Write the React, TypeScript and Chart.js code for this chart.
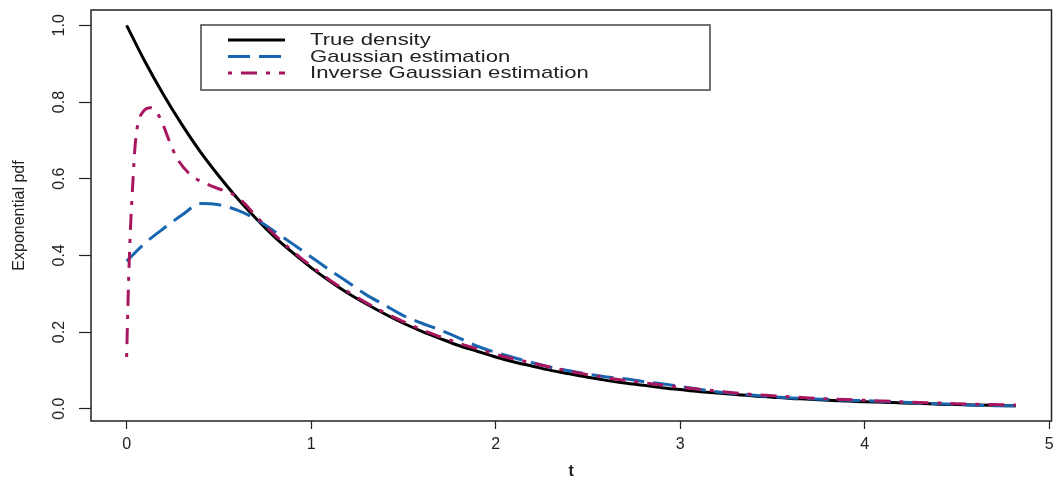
import React, { useEffect, useRef } from "react";
import { Chart, registerables } from "chart.js";

Chart.register(...registerables);

// ---- data ----
const X_TICKS = [0, 1, 2, 3, 4, 5];
const Y_TICK_LABELS = ["0.0", "0.2", "0.4", "0.6", "0.8", "1.0"];
const X_TITLE = "t";
const Y_TITLE = "Exponential pdf";
const SERIES_LABELS = ["True density", "Gaussian estimation", "Inverse Gaussian estimation"];

const tGrid = [
  0, 0.1, 0.2, 0.3, 0.4, 0.5, 0.6, 0.7, 0.8, 0.9,
  1.0, 1.1, 1.2, 1.3, 1.4, 1.5, 1.6, 1.7, 1.8, 1.9,
  2.0, 2.1, 2.2, 2.3, 2.4, 2.5, 2.6, 2.7, 2.8, 2.9,
  3.0, 3.1, 3.2, 3.3, 3.4, 3.5, 3.6, 3.7, 3.8, 3.9,
  4.0, 4.1, 4.2, 4.3, 4.4, 4.5, 4.6, 4.7, 4.8, 4.82,
];

const trueDensity = [
  1.0, 0.905, 0.819, 0.741, 0.67, 0.607, 0.549, 0.497, 0.449, 0.407,
  0.368, 0.333, 0.301, 0.273, 0.247, 0.223, 0.202, 0.183, 0.165, 0.15,
  0.135, 0.122, 0.111, 0.1, 0.091, 0.082, 0.074, 0.067, 0.061, 0.055,
  0.05, 0.045, 0.041, 0.037, 0.033, 0.03, 0.027, 0.025, 0.022, 0.02,
  0.018, 0.017, 0.015, 0.014, 0.012, 0.011, 0.01, 0.009, 0.008, 0.008,
];

const gaussianEst = [
  0.385, 0.432, 0.47, 0.505, 0.535, 0.532, 0.518, 0.495, 0.463, 0.43,
  0.396, 0.362, 0.33, 0.297, 0.27, 0.243, 0.223, 0.205, 0.185, 0.163,
  0.147, 0.133, 0.12, 0.108, 0.099, 0.09, 0.083, 0.078, 0.071, 0.065,
  0.058, 0.051, 0.044, 0.039, 0.035, 0.031, 0.028, 0.026, 0.024, 0.022,
  0.021, 0.019, 0.017, 0.015, 0.013, 0.011, 0.009, 0.008, 0.008, 0.007,
];

const invGaussT = [
  0, 0.01, 0.02, 0.035, 0.045, 0.06, 0.09, 0.13, 0.18, 0.23,
  0.27, 0.34, 0.43, 0.52, 0.6, 0.65, 0.7, 0.8, 0.9, 1.0,
  1.1, 1.2, 1.3, 1.4, 1.5, 1.6, 1.7, 1.8, 1.9, 2.0,
  2.1, 2.2, 2.3, 2.4, 2.5, 2.6, 2.7, 2.8, 2.9, 3.0,
  3.1, 3.2, 3.3, 3.4, 3.5, 3.6, 3.7, 3.8, 3.9, 4.0,
  4.1, 4.2, 4.3, 4.4, 4.5, 4.6, 4.7, 4.8, 4.82,
];

const invGaussEst = [
  0.135, 0.32, 0.46, 0.6, 0.68, 0.74, 0.775, 0.785, 0.76, 0.7,
  0.656, 0.613, 0.587, 0.57, 0.553, 0.53, 0.503, 0.455, 0.411, 0.372,
  0.336, 0.305, 0.276, 0.25, 0.227, 0.206, 0.188, 0.171, 0.156, 0.142,
  0.13, 0.119, 0.108, 0.098, 0.089, 0.081, 0.074, 0.068, 0.062, 0.056,
  0.051, 0.046, 0.041, 0.037, 0.034, 0.031, 0.028, 0.026, 0.024, 0.022,
  0.02, 0.018, 0.016, 0.015, 0.013, 0.012, 0.011, 0.01, 0.01,
];

const FONT = "'Liberation Sans', Arial, Helvetica, sans-serif";

export default function App() {
  const ref = useRef<HTMLCanvasElement>(null);

  useEffect(() => {
    if (!ref.current) return;

    const boxPlugin = {
      id: "rbox",
      afterDatasetsDraw(chart: any) {
        const { ctx, chartArea: a } = chart;
        ctx.save();
        ctx.strokeStyle = "#222";
        ctx.lineWidth = 1.5;
        ctx.strokeRect(a.left, a.top, a.right - a.left, a.bottom - a.top);
        ctx.restore();
      },
    };

    const legendPlugin = {
      id: "rlegend",
      afterDraw(chart: any) {
        const ctx = chart.ctx;
        const x0 = 201, y0 = 25, x1 = 710, y1 = 90;
        ctx.save();
        ctx.fillStyle = "#fff";
        ctx.fillRect(x0, y0, x1 - x0, y1 - y0);
        ctx.strokeStyle = "#444";
        ctx.lineWidth = 1.5;
        ctx.strokeRect(x0, y0, x1 - x0, y1 - y0);
        const baselines = [45, 61.5, 78];
        chart.data.datasets.forEach((ds: any, i: number) => {
          const yb = baselines[i];
          ctx.save();
          ctx.strokeStyle = ds.borderColor;
          ctx.lineWidth = ds.borderWidth;
          ctx.lineCap = "butt";
          ctx.setLineDash(ds.borderDash || []);
          ctx.beginPath();
          ctx.moveTo(228, yb - 5);
          ctx.lineTo(285, yb - 5);
          ctx.stroke();
          ctx.restore();
          ctx.save();
          ctx.translate(310, yb);
          ctx.scale(1.3, 1);
          ctx.fillStyle = "#222";
          ctx.font = `17px ${FONT}`;
          ctx.textBaseline = "alphabetic";
          ctx.textAlign = "left";
          ctx.fillText(ds.label, 0, 0);
          ctx.restore();
        });
        ctx.restore();
      },
    };

    const chart = new Chart(ref.current, {
      type: "line",
      data: {
        datasets: [
          {
            label: SERIES_LABELS[0],
            data: tGrid.map((t, i) => ({ x: t, y: trueDensity[i] })),
            borderColor: "#000000",
            borderWidth: 3,
            borderDash: [],
            order: 3,
          },
          {
            label: SERIES_LABELS[1],
            data: tGrid.map((t, i) => ({ x: t, y: gaussianEst[i] })),
            borderColor: "#1866b0",
            borderWidth: 3,
            borderDash: [22, 9],
            order: 2,
          },
          {
            label: SERIES_LABELS[2],
            data: invGaussT.map((t, i) => ({ x: t, y: invGaussEst[i] })),
            borderColor: "#a8165f",
            borderWidth: 3,
            borderDash: [4, 9, 16, 9],
            order: 1,
          },
        ],
      },
      options: {
        responsive: false,
        animation: false,
        devicePixelRatio: 1,
        layout: { padding: { top: 10, right: 3.5, left: 0, bottom: 0 } },
        plugins: {
          legend: { display: false },
          tooltip: { enabled: false },
        },
        elements: {
          point: { radius: 0 },
          line: { cubicInterpolationMode: "monotone", fill: false, borderCapStyle: "butt" },
        },
        scales: {
          x: {
            type: "linear",
            min: -0.193,
            max: 5.013,
            afterBuildTicks: (s: any) => {
              s.ticks = X_TICKS.map((v) => ({ value: v }));
            },
            afterFit: (s: any) => {
              s.height = 56;
              s.paddingLeft = 0;
              s.paddingRight = 0;
            },
            border: { display: false },
            grid: {
              drawOnChartArea: false,
              drawTicks: true,
              tickLength: 8,
              tickColor: "#222",
              tickWidth: 1.2,
            },
            ticks: {
              autoSkip: false,
              maxRotation: 0,
              padding: 6,
              color: "#222",
              font: { family: FONT, size: 16 },
              callback: (v: any) => String(v),
            },
            title: {
              display: true,
              text: X_TITLE,
              color: "#222",
              font: { family: FONT, size: 16, weight: "bold" },
              padding: { top: 0, bottom: -4 },
            },
          },
          y: {
            type: "linear",
            min: -0.032,
            max: 1.04,
            afterBuildTicks: (s: any) => {
              s.ticks = Y_TICK_LABELS.map((l) => ({ value: parseFloat(l) }));
            },
            afterFit: (s: any) => {
              s.width = 91;
              s.paddingTop = 0;
              s.paddingBottom = 0;
            },
            border: { display: false },
            grid: {
              drawOnChartArea: false,
              drawTicks: true,
              tickLength: 12,
              tickColor: "#222",
              tickWidth: 1.2,
            },
            ticks: {
              minRotation: 90,
              maxRotation: 90,
              crossAlign: "center",
              padding: 8,
              color: "#222",
              font: { family: FONT, size: 16 },
              callback: (v: any) => Y_TICK_LABELS.find((l) => parseFloat(l) === Number(v)) ?? Number(v).toFixed(1),
            },
            title: {
              display: true,
              text: Y_TITLE,
              color: "#222",
              font: { family: FONT, size: 16 },
              padding: { top: 10, bottom: 0 },
            },
          },
        },
      } as any,
      plugins: [boxPlugin, legendPlugin],
    });

    return () => chart.destroy();
  }, []);

  return (
    <div style={{ position: "fixed", left: 0, top: 0, width: 1055, height: 477, background: "#fff" }}>
      <canvas ref={ref} width={1055} height={477} style={{ width: 1055, height: 477, display: "block" }} />
    </div>
  );
}
